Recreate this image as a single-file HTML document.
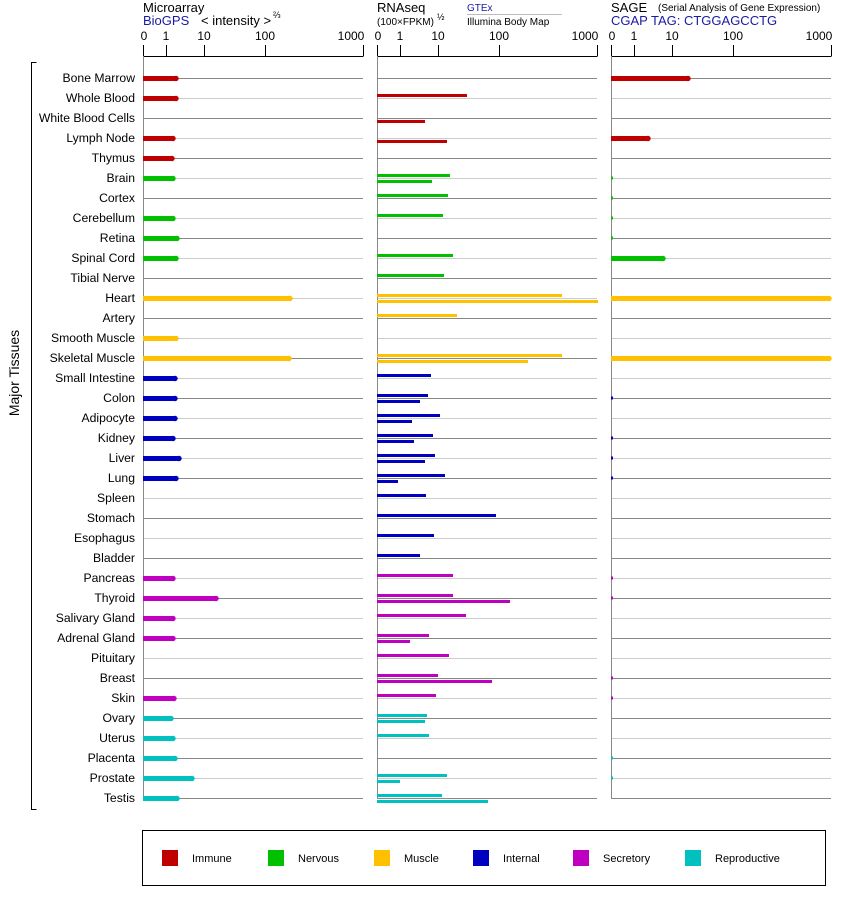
<!DOCTYPE html>
<html><head><meta charset="utf-8"><style>
body{margin:0;background:#fff}
svg{display:block;font-family:"Liberation Sans",sans-serif}
</style></head><body>
<svg id="s" width="842" height="900" viewBox="0 0 842 900" xmlns="http://www.w3.org/2000/svg">
<g font-size="13" fill="#000">
<text x="143" y="12">Microarray</text>
<text x="143" y="25" fill="#1a1aa0">BioGPS</text>
<text x="201" y="25" font-size="13">&lt; intensity &gt;</text>
<text x="273" y="18" font-size="9">⅔</text>
<text x="377" y="12">RNAseq</text>
<text x="377" y="25" font-size="10">(100×FPKM)</text>
<text x="437" y="20" font-size="9">½</text>
<text x="467" y="11" font-size="10" fill="#1a1aa0">GTEx</text>
<line x1="467" y1="14.5" x2="562" y2="14.5" stroke="#bbb"/>
<text x="467" y="25" font-size="10">Illumina Body Map</text>
<text x="611" y="12">SAGE</text>
<text x="658" y="11" font-size="10">(Serial Analysis of Gene Expression)</text>
<text x="611" y="25" fill="#1a1aa0">CGAP TAG: CTGGAGCCTG</text>
</g>
<g font-size="12" text-anchor="middle">
<text x="144" y="40">0</text><text x="166" y="40">1</text><text x="204" y="40">10</text><text x="265" y="40">100</text><text x="351" y="40">1000</text>
<text x="378" y="40">0</text><text x="400" y="40">1</text><text x="438" y="40">10</text><text x="499" y="40">100</text><text x="585" y="40">1000</text>
<text x="612" y="40">0</text><text x="634" y="40">1</text><text x="672" y="40">10</text><text x="733" y="40">100</text><text x="819" y="40">1000</text>
</g>
<g id="grid"></g>
<g font-size="12.2" text-anchor="end">
<text x="135" y="82">Bone Marrow</text><text x="135" y="102">Whole Blood</text><text x="135" y="122">White Blood Cells</text><text x="135" y="142">Lymph Node</text><text x="135" y="162">Thymus</text><text x="135" y="182">Brain</text><text x="135" y="202">Cortex</text><text x="135" y="222">Cerebellum</text><text x="135" y="242">Retina</text><text x="135" y="262">Spinal Cord</text><text x="135" y="282">Tibial Nerve</text><text x="135" y="302">Heart</text><text x="135" y="322">Artery</text><text x="135" y="342">Smooth Muscle</text><text x="135" y="362">Skeletal Muscle</text><text x="135" y="382">Small Intestine</text><text x="135" y="402">Colon</text><text x="135" y="422">Adipocyte</text><text x="135" y="442">Kidney</text><text x="135" y="462">Liver</text><text x="135" y="482">Lung</text><text x="135" y="502">Spleen</text><text x="135" y="522">Stomach</text><text x="135" y="542">Esophagus</text><text x="135" y="562">Bladder</text><text x="135" y="582">Pancreas</text><text x="135" y="602">Thyroid</text><text x="135" y="622">Salivary Gland</text><text x="135" y="642">Adrenal Gland</text><text x="135" y="662">Pituitary</text><text x="135" y="682">Breast</text><text x="135" y="702">Skin</text><text x="135" y="722">Ovary</text><text x="135" y="742">Uterus</text><text x="135" y="762">Placenta</text><text x="135" y="782">Prostate</text><text x="135" y="802">Testis</text>
</g>
<path d="M36.5 62.5H31.5V809.5H36.5" fill="none" stroke="#000"/>
<text transform="translate(19,373) rotate(-90)" font-size="14" text-anchor="middle">Major Tissues</text>
<rect x="142.5" y="830.5" width="683" height="55" fill="none" stroke="#000"/>
<g font-size="11">
<rect x="162" y="850" width="16" height="16" fill="#c00000"/><text x="192" y="862">Immune</text>
<rect x="268" y="850" width="16" height="16" fill="#00c000"/><text x="298" y="862">Nervous</text>
<rect x="374" y="850" width="16" height="16" fill="#ffc000"/><text x="404" y="862">Muscle</text>
<rect x="473" y="850" width="16" height="16" fill="#0000c0"/><text x="503" y="862">Internal</text>
<rect x="573" y="850" width="16" height="16" fill="#c000c0"/><text x="603" y="862">Secretory</text>
<rect x="685" y="850" width="16" height="16" fill="#00c0c0"/><text x="715" y="862">Reproductive</text>
</g>
</svg>
<script>
var g=document.getElementById('grid'),h='';
var C=['#c00000','#00c000','#ffc000','#0000c0','#c000c0','#00c0c0'];
var cat=[0,0,0,0,0,1,1,1,1,1,1,2,2,2,2,3,3,3,3,3,3,3,3,3,3,4,4,4,4,4,4,4,5,5,5,5,5];
var P=[143,377,611];
for(var i=0;i<37;i++){var y=78+20*i;var c=i%2?'#ccc':'#888';
 P.forEach(function(x){h+='<line x1="'+x+'" y1="'+(y+.5)+'" x2="'+(x+220)+'" y2="'+(y+.5)+'" stroke="'+c+'"/>';});}
P.forEach(function(x){h+='<line x1="'+(x+.5)+'" y1="56.5" x2="'+(x+220.5)+'" y2="56.5" stroke="#000"/>';
 [0,23,61,122,220].forEach(function(d){h+='<line x1="'+(x+d+.5)+'" y1="45" x2="'+(x+d+.5)+'" y2="56" stroke="#000"/>';});
 h+='<line x1="'+(x+.5)+'" y1="56" x2="'+(x+.5)+'" y2="799" stroke="#888"/>';});
var M=[178,178,0,175,174,175,0,175,179,178,0,292,0,178,291,177,177,177,175,181,178,0,0,0,0,175,218,175,175,0,0,176,173,175,177,194,179];
var S=[690,0,0,650,0,613,613,613,613,665,0,831,0,0,831,0,613,0,613,613,613,0,0,0,0,613,613,0,0,0,613,613,0,0,613,613,0];
function thick(x0,e,y,c){if(!e)return;var w=e-x0;if(w<4){h+='<rect x="'+x0+'" y="'+(y-1.5)+'" width="2" height="3" fill="'+c+'"/>';return;}
 h+='<rect x="'+x0+'" y="'+(y-2)+'" width="'+(w-2)+'" height="5" fill="'+c+'"/><circle cx="'+(e-2)+'" cy="'+(y+.5)+'" r="2.7" fill="'+c+'"/>';}
var G=[0,467,0,0,0,450,448,443,0,453,444,562,457,0,562,431,428,440,433,435,445,426,496,434,420,453,453,466,429,449,438,436,427,429,0,447,442];
var I=[0,0,425,447,0,432,0,0,0,0,0,598,0,0,528,0,420,412,414,425,398,0,0,0,0,0,510,0,410,0,492,0,425,0,0,400,488];
for(var i=0;i<37;i++){var y=78+20*i,c=C[cat[i]];
 thick(143,M[i],y,c);thick(611,S[i],y,c);
 if(G[i])h+='<rect x="377" y="'+(y-4)+'" width="'+(G[i]-377)+'" height="3" fill="'+c+'"/>';
 if(I[i])h+='<rect x="377" y="'+(y+2)+'" width="'+(I[i]-377)+'" height="3" fill="'+c+'"/>';}
g.innerHTML=h;
</script>
</body></html>
